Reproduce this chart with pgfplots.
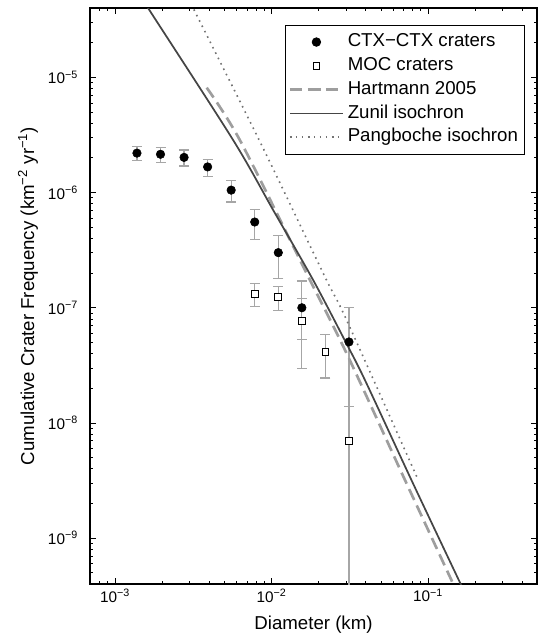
\documentclass[border=0pt]{standalone}
\usepackage{pgfplots}
\pgfplotsset{compat=1.18}
\usepackage{pgfplotstable}
\usepackage{fontspec}
\setmainfont{Liberation Sans}
\definecolor{errgray}{gray}{0.65}
\definecolor{zunil}{gray}{0.27}
\definecolor{hart}{gray}{0.62}
\definecolor{pang}{gray}{0.45}

\pgfplotstableread{
x y lo hi
1.381e-3 2.20e-6 1.90e-6 2.53e-6
1.953e-3 2.15e-6 1.82e-6 2.48e-6
2.762e-3 2.02e-6 1.70e-6 2.34e-6
3.906e-3 1.67e-6 1.38e-6 1.95e-6
5.524e-3 1.05e-6 8.28e-7 1.28e-6
7.8125e-3 5.55e-7 3.93e-7 7.11e-7
1.105e-2 3.01e-7 1.79e-7 4.26e-7
1.5625e-2 1.00e-7 5.30e-8 1.71e-7
3.125e-2 5.05e-8 1.0e-10 1.00e-7
}\ctx

\pgfplotstableread{
x y lo hi
7.8125e-3 1.33e-7 1.02e-7 1.62e-7
1.105e-2 1.24e-7 9.5e-8 1.54e-7
1.5625e-2 7.64e-8 2.97e-8 1.20e-7
2.2097e-2 4.14e-8 2.46e-8 5.86e-8
3.125e-2 6.95e-9 1.0e-10 1.40e-8
}\moc

\begin{document}
\begin{tikzpicture}
\useasboundingbox (-67.5pt,-38.25pt) rectangle (336.75pt,438pt);
\begin{axis}[
  scale only axis, width=335.25pt, height=432pt,
  xmode=log, ymode=log,
  xmin=6.92e-4, xmax=0.497, ymin=4e-10, ymax=4e-5,
  axis line style={line width=0.8pt},
  tick style={black, line width=0.6pt},
  tick align=inside,
  major tick length=4.5pt, minor tick length=2.25pt,
  xtick={1e-3,1e-2,1e-1},
  xticklabels={10\textsuperscript{−3},10\textsuperscript{−2},10\textsuperscript{−1}},
  minor xtick={7e-4,8e-4,9e-4,2e-3,3e-3,4e-3,5e-3,6e-3,7e-3,8e-3,9e-3,2e-2,3e-2,4e-2,5e-2,6e-2,7e-2,8e-2,9e-2,2e-1,3e-1,4e-1},
  ytick={1e-9,1e-8,1e-7,1e-6,1e-5},
  yticklabels={10\textsuperscript{−9},10\textsuperscript{−8},10\textsuperscript{−7},10\textsuperscript{−6},10\textsuperscript{−5}},
  minor ytick={5e-10,6e-10,7e-10,8e-10,9e-10,2e-9,3e-9,4e-9,5e-9,6e-9,7e-9,8e-9,9e-9,2e-8,3e-8,4e-8,5e-8,6e-8,7e-8,8e-8,9e-8,2e-7,3e-7,4e-7,5e-7,6e-7,7e-7,8e-7,9e-7,2e-6,3e-6,4e-6,5e-6,6e-6,7e-6,8e-6,9e-6,2e-5,3e-5},
  tick label style={font=\fontsize{11.5}{13}\selectfont},
  yticklabel style={xshift=-5.5pt},
  label style={font=\fontsize{14}{16}\selectfont},
  xlabel={Diameter (km)},
  ylabel={Cumulative Crater Frequency (km\textsuperscript{−2} yr\textsuperscript{−1})},
  xlabel style={at={(axis description cs:0.5,-0.0712)}, anchor=center},
  ylabel style={at={(axis description cs:-0.1387,0.5)}, anchor=center},
  legend image code/.code={\draw[mark repeat=2,mark phase=2,#1] plot coordinates {(0pt,0pt) (20pt,0pt) (40pt,0pt)};},
  legend cell align=left,
  legend style={at={(0.9732,0.9705)}, anchor=north east, draw=black, line width=0.6pt, fill=white,
    inner xsep=2.5pt, inner ysep=4pt, row sep=0.85pt,
    font=\fontsize{14}{16}\selectfont,
    nodes={inner xsep=2.5pt, inner ysep=2pt, text height=10pt, text depth=3pt}},
]
\addplot[only marks, mark=*, mark size=3.2pt, mark options={fill=black, draw=black},
  error bars/.cd, y dir=both, y explicit, error mark=|,
  error bar style={color=errgray, line width=0.9pt},
  error mark options={color=errgray, line width=0.9pt, mark size=3.75pt}]
  table[x=x, y=y, y error plus expr=\thisrow{hi}-\thisrow{y}, y error minus expr=\thisrow{y}-\thisrow{lo}] {\ctx};
\addlegendentry{CTX−CTX craters}
\addplot[only marks, mark=square*, mark size=2.6pt, mark options={fill=white, draw=black, line width=0.6pt},
  error bars/.cd, y dir=both, y explicit, error mark=|,
  error bar style={color=errgray, line width=0.9pt},
  error mark options={color=errgray, line width=0.9pt, mark size=3.75pt}]
  table[x=x, y=y, y error plus expr=\thisrow{hi}-\thisrow{y}, y error minus expr=\thisrow{y}-\thisrow{lo}] {\moc};
\addlegendentry{MOC craters}
\addplot[hart, line width=2pt, dash pattern=on 9pt off 4.5pt, no marks, smooth] coordinates {
(3.853e-3,8.14e-6) (6.29e-3,2.84e-6) (1.679e-2,1.98e-7) (3.023e-2,4.00e-8) (7.13e-2,3.19e-9) (0.1451,3.99e-10) (0.16,3.0e-10)};
\addlegendentry{Hartmann 2005}
\addplot[zunil, line width=1.3pt, no marks, smooth] coordinates {
(1.5e-3,4.77e-5) (1.632e-3,3.97e-5) (5.70e-3,2.84e-6) (1.027e-2,7.01e-7) (1.849e-2,1.732e-7) (2.975e-2,5.05e-8) (3.958e-2,2.35e-8) (7.84e-2,3.19e-9) (0.1618,3.99e-10) (0.18,2.96e-10)};
\addlegendentry{Zunil isochron}
\addplot[pang, line width=1.2pt, dash pattern=on 1.2pt off 3.3pt, no marks, smooth] coordinates {
(3.0e-3,4.57e-5) (3.164e-3,3.97e-5) (8.66e-3,2.57e-6) (2.197e-2,1.85e-7) (3.023e-2,7.79e-8) (8.67e-2,3.19e-9)};
\addlegendentry{Pangboche isochron}
\end{axis}
\end{tikzpicture}
\end{document}
